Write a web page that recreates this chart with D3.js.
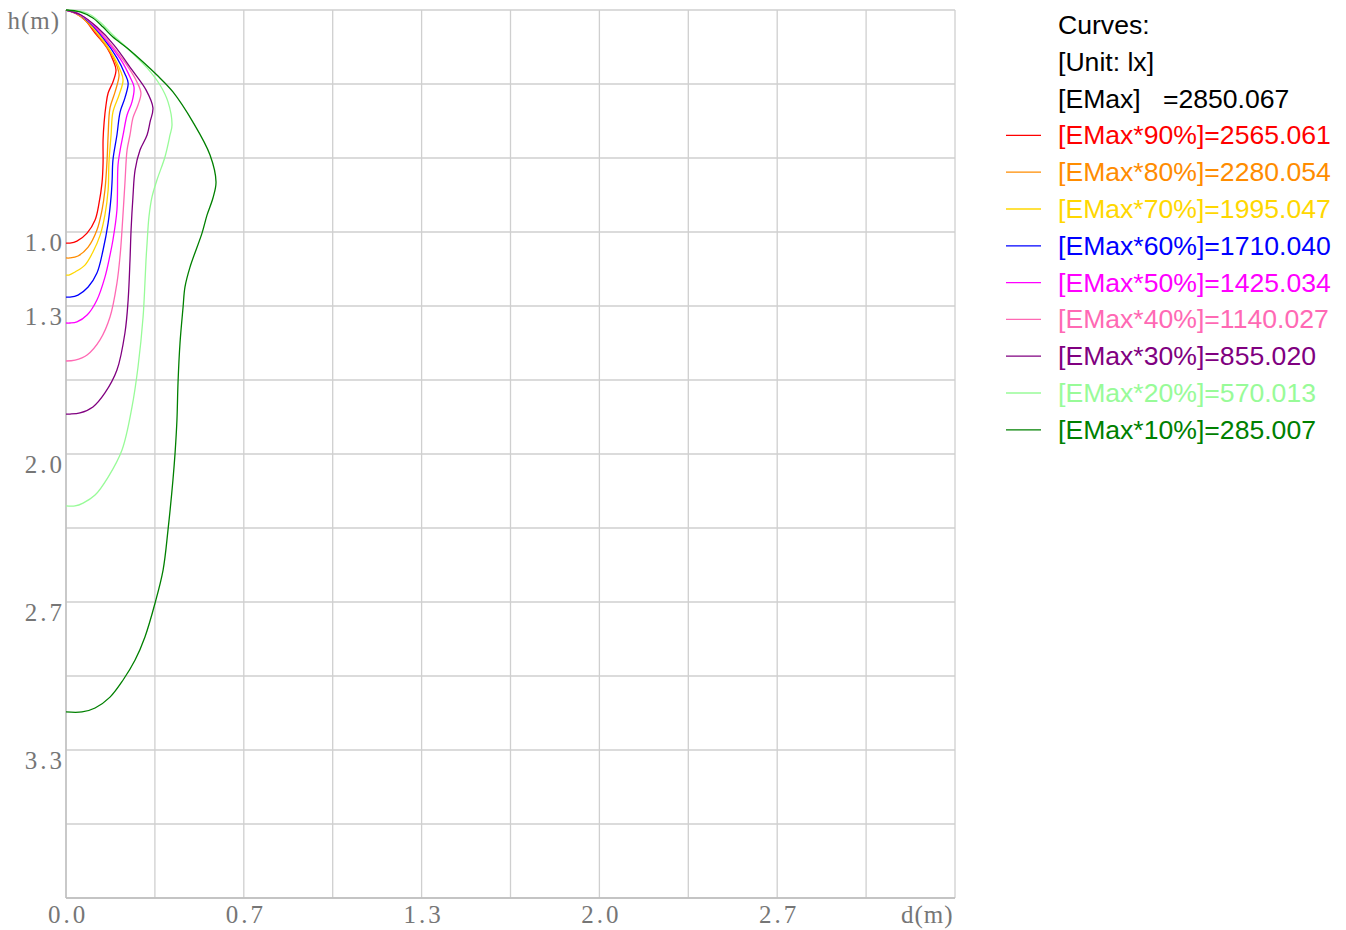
<!DOCTYPE html>
<html>
<head>
<meta charset="utf-8">
<script src="https://cdn.jsdelivr.net/npm/d3@7"></script>
<style>
  html, body { margin: 0; padding: 0; background: #ffffff; }
  svg { display: block; }
  .tick-label { font-family: "Liberation Serif", "DejaVu Serif", serif; font-size: 25px; fill: #767676; letter-spacing: 3px; }
  .tick-label.unit { letter-spacing: 1px; }
  .legend text { font-family: "Liberation Sans", Arial, sans-serif; font-size: 26.6px; white-space: pre; }
</style>
</head>
<body>
<svg id="chart" width="1346" height="930"></svg>
<script>
// ---------- Data ----------
const seriesNames = [
  "[EMax*90%]=2565.061",
  "[EMax*80%]=2280.054",
  "[EMax*70%]=1995.047",
  "[EMax*60%]=1710.040",
  "[EMax*50%]=1425.034",
  "[EMax*40%]=1140.027",
  "[EMax*30%]=855.020",
  "[EMax*20%]=570.013",
  "[EMax*10%]=285.007"
];
const seriesColors = ["#ff0000", "#ff8c00", "#ffd700", "#0000ff", "#ff00ff", "#ff69b4", "#800080", "#98fb98", "#008000"];
const legendHeader = ["Curves:", "[Unit: lx]", "[EMax]   =2850.067"];

// each curve: [d (m), h (m)]
const curve90 = [[0,0],[0.034,0.014],[0.071,0.045],[0.109,0.104],[0.154,0.171],[0.176,0.225],[0.1875,0.270],[0.176,0.324],[0.158,0.374],[0.150,0.428],[0.143,0.505],[0.139,0.586],[0.139,0.689],[0.135,0.779],[0.124,0.869],[0.109,0.946],[0.079,1.005],[0.041,1.041],[0.015,1.050],[0,1.050]];
const curve80 = [[0,0],[0.0375,0.014],[0.075,0.050],[0.116,0.108],[0.165,0.189],[0.191,0.252],[0.199,0.293],[0.184,0.369],[0.165,0.441],[0.158,0.563],[0.154,0.676],[0.146,0.811],[0.135,0.901],[0.116,0.991],[0.083,1.068],[0.045,1.108],[0.015,1.117],[0,1.117]];
const curve70 = [[0,0],[0.041,0.018],[0.083,0.054],[0.128,0.117],[0.176,0.203],[0.203,0.270],[0.214,0.315],[0.199,0.383],[0.176,0.460],[0.169,0.563],[0.161,0.689],[0.158,0.811],[0.146,0.923],[0.128,1.014],[0.101,1.090],[0.071,1.149],[0.034,1.180],[0.011,1.194],[0,1.194]];
const curve60 = [[0,0],[0.045,0.018],[0.090,0.059],[0.139,0.126],[0.191,0.216],[0.221,0.288],[0.233,0.329],[0.221,0.396],[0.203,0.459],[0.191,0.563],[0.176,0.676],[0.173,0.766],[0.169,0.842],[0.158,0.959],[0.139,1.081],[0.116,1.185],[0.083,1.248],[0.045,1.284],[0.015,1.293],[0,1.293]];
const curve50 = [[0,0],[0.049,0.018],[0.0975,0.063],[0.150,0.135],[0.206,0.225],[0.240,0.302],[0.255,0.347],[0.2475,0.414],[0.229,0.473],[0.214,0.563],[0.203,0.631],[0.195,0.698],[0.191,0.901],[0.176,1.036],[0.165,1.104],[0.146,1.203],[0.116,1.306],[0.079,1.374],[0.041,1.405],[0.015,1.410],[0,1.410]];
const curve40 = [[0,0],[0.0525,0.0225],[0.105,0.068],[0.161,0.144],[0.225,0.243],[0.266,0.324],[0.281,0.374],[0.270,0.428],[0.251,0.486],[0.240,0.563],[0.229,0.631],[0.221,0.779],[0.210,0.991],[0.203,1.104],[0.191,1.230],[0.165,1.383],[0.1275,1.486],[0.079,1.554],[0.034,1.577],[0,1.581]];
const curve30 = [[0,0],[0.056,0.0225],[0.116,0.077],[0.180,0.158],[0.2475,0.270],[0.300,0.360],[0.326,0.441],[0.315,0.505],[0.304,0.563],[0.2775,0.631],[0.259,0.721],[0.251,0.842],[0.244,0.991],[0.240,1.126],[0.233,1.306],[0.221,1.455],[0.191,1.622],[0.146,1.725],[0.101,1.788],[0.0525,1.815],[0.015,1.820],[0,1.820]];
const curve20 = [[0,0],[0.079,0.0135],[0.1275,0.054],[0.176,0.113],[0.229,0.171],[0.304,0.261],[0.3525,0.338],[0.3825,0.414],[0.3975,0.518],[0.390,0.563],[0.371,0.662],[0.341,0.766],[0.3225,0.842],[0.311,0.932],[0.304,1.050],[0.300,1.126],[0.296,1.230],[0.289,1.383],[0.270,1.608],[0.2475,1.788],[0.210,1.982],[0.158,2.104],[0.109,2.185],[0.064,2.221],[0.034,2.234],[0,2.234]];
const curve10 = [[0,0],[0.0525,0.009],[0.101,0.036],[0.139,0.077],[0.176,0.122],[0.229,0.171],[0.289,0.234],[0.341,0.293],[0.401,0.369],[0.476,0.505],[0.540,0.653],[0.5625,0.775],[0.551,0.847],[0.529,0.923],[0.510,1.005],[0.465,1.158],[0.446,1.248],[0.439,1.338],[0.4275,1.500],[0.420,1.680],[0.416,1.847],[0.409,1.995],[0.401,2.117],[0.3825,2.342],[0.364,2.523],[0.334,2.671],[0.296,2.824],[0.259,2.928],[0.214,3.018],[0.165,3.095],[0.109,3.144],[0.060,3.162],[0,3.162]];
const curves = [curve90, curve80, curve70, curve60, curve50, curve40, curve30, curve20, curve10];

const xTickValues = [0, 2/3, 4/3, 2, 8/3, 10/3];
const xTickLabels = ["0.0", "0.7", "1.3", "2.0", "2.7", "d(m)"];
const yTickValues = [0, 1, 4/3, 2, 8/3, 10/3];
const yTickLabels = ["h(m)", "1.0", "1.3", "2.0", "2.7", "3.3"];
const gridStep = 1/3;

// ---------- Layout ----------
const svg = d3.select("#chart");
const plot = { left: 66, right: 955, top: 10, bottom: 898 };
const x = d3.scaleLinear().domain([0, 10/3]).range([plot.left, plot.right]);
const y = d3.scaleLinear().domain([0, 4]).range([plot.top, plot.bottom]);

// grid
const xGrid = d3.range(0, 11).map(i => i * gridStep);
const yGrid = d3.range(0, 13).map(i => i * gridStep);
const grid = svg.append("g");
grid.selectAll("line.v").data(xGrid).enter().append("line")
  .attr("x1", d => x(d)).attr("x2", d => x(d))
  .attr("y1", plot.top).attr("y2", plot.bottom)
  .attr("stroke", "#cfcfcf").attr("stroke-width", 1.3);
grid.selectAll("line.h").data(yGrid).enter().append("line")
  .attr("y1", d => y(d)).attr("y2", d => y(d))
  .attr("x1", plot.left).attr("x2", plot.right)
  .attr("stroke", "#cfcfcf").attr("stroke-width", 1.3);
// axis lines
svg.append("line").attr("x1", plot.left).attr("x2", plot.left).attr("y1", plot.top).attr("y2", plot.bottom)
  .attr("stroke", "#bdbdbd").attr("stroke-width", 1.3);
svg.append("line").attr("x1", plot.left).attr("x2", plot.right).attr("y1", plot.bottom).attr("y2", plot.bottom)
  .attr("stroke", "#bdbdbd").attr("stroke-width", 1.3);

// axes labels via d3 axes
const lastX = xTickLabels.length - 1;
const xAxis = d3.axisBottom(x).tickValues(xTickValues).tickSize(0).tickPadding(0)
  .tickFormat((d, i) => xTickLabels[i]);
const gx = svg.append("g").attr("transform", `translate(0,${plot.bottom})`).call(xAxis);
gx.select(".domain").remove();
gx.selectAll("text").attr("class", (d, i) => i === lastX ? "tick-label unit" : "tick-label")
  .attr("dy", null).attr("y", 25)
  .attr("text-anchor", (d, i) => i === lastX ? "end" : "middle")
  .attr("dx", (d, i) => i === lastX ? -2 : 1.5);

const yAxis = d3.axisLeft(y).tickValues(yTickValues).tickSize(0).tickPadding(0)
  .tickFormat((d, i) => yTickLabels[i]);
const gy = svg.append("g").attr("transform", `translate(${plot.left},0)`).call(yAxis);
gy.select(".domain").remove();
gy.selectAll("text").attr("class", (d, i) => i === 0 ? "tick-label unit" : "tick-label")
  .attr("dy", null).attr("y", 18)
  .attr("x", (d, i) => i === 0 ? -6 : -1).attr("text-anchor", "end");

// curves
const line = d3.line().x(d => x(d[0])).y(d => y(d[1])).curve(d3.curveCatmullRom.alpha(0.5));
svg.append("g").selectAll("path").data(curves).enter().append("path")
  .attr("d", line)
  .attr("fill", "none")
  .attr("stroke", (d, i) => seriesColors[i])
  .attr("stroke-width", 1.3);

// legend
const legend = svg.append("g").attr("class", "legend");
const rowH = 36.8, baseY = 34, textX = 1058;
legend.selectAll("text.h").data(legendHeader).enter().append("text")
  .attr("x", textX).attr("y", (d, i) => baseY + i * rowH)
  .attr("fill", "#000").text(d => d);
const items = legend.selectAll("g.item").data(seriesNames).enter().append("g");
items.append("line")
  .attr("x1", 1006).attr("x2", 1041)
  .attr("y1", (d, i) => baseY + (i + 3) * rowH - 9)
  .attr("y2", (d, i) => baseY + (i + 3) * rowH - 9)
  .attr("stroke", (d, i) => seriesColors[i]).attr("stroke-width", 1.3);
items.append("text")
  .attr("x", textX).attr("y", (d, i) => baseY + (i + 3) * rowH)
  .attr("fill", (d, i) => seriesColors[i]).text(d => d);
</script>
</body>
</html>
